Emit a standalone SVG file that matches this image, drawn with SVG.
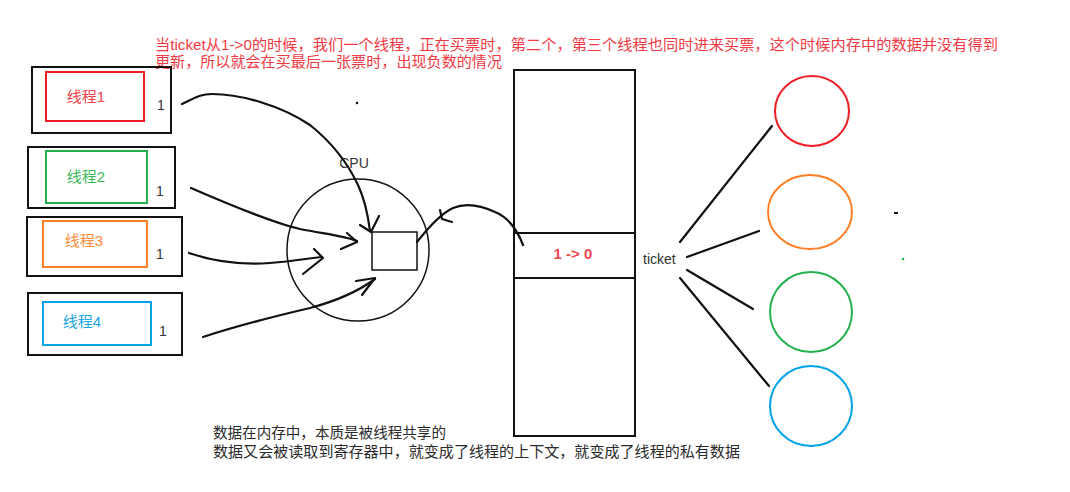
<svg xmlns="http://www.w3.org/2000/svg" width="1070" height="492" viewBox="0 0 1070 492">
<style>
.box{fill:none;stroke:#111;stroke-width:2}
.thin{fill:none;stroke:#111;stroke-width:1.5}
.hand{fill:none;stroke:#111;stroke-width:2.2;stroke-linecap:round;stroke-linejoin:round}
.zh{font-family:"Liberation Sans","Noto Sans CJK SC",sans-serif;font-size:15px}
.lbl{font-family:"Liberation Sans","Noto Sans CJK SC",sans-serif;font-size:14px;fill:#333}
.note{fill:#f23a44}
.dark{fill:#2a2a2a}
</style>
<rect width="1070" height="492" fill="#fff"/>
<text class="zh note" x="155" y="50" textLength="843" lengthAdjust="spacingAndGlyphs">当ticket从1-&gt;0的时候，我们一个线程，正在买票时，第二个，第三个线程也同时进来买票，这个时候内存中的数据并没有得到</text>
<text class="zh note" x="155" y="67" textLength="347" lengthAdjust="spacingAndGlyphs">更新，所以就会在买最后一张票时，出现负数的情况</text>
<g id="thread1">
<rect class="box" x="32" y="67" width="139" height="66"/>
<rect x="46" y="72" width="98" height="49" fill="none" stroke="#ed1c24" stroke-width="2"/>
<text class="zh" x="86" y="102" text-anchor="middle" fill="#f0404a">线程1</text>
<text class="lbl" x="161" y="110" text-anchor="middle">1</text>
</g>
<g id="thread2">
<rect class="box" x="28" y="147" width="147" height="61"/>
<rect x="46" y="151" width="101" height="52" fill="none" stroke="#22b14c" stroke-width="2"/>
<text class="zh" x="86" y="182" text-anchor="middle" fill="#3cba5a">线程2</text>
<text class="lbl" x="160" y="196" text-anchor="middle">1</text>
</g>
<g id="thread3">
<rect class="box" x="27" y="217" width="155" height="59"/>
<rect x="43" y="221" width="104" height="46" fill="none" stroke="#ff7f27" stroke-width="2"/>
<text class="zh" x="84" y="246" text-anchor="middle" fill="#ff8a3a">线程3</text>
<text class="lbl" x="160" y="259" text-anchor="middle">1</text>
</g>
<g id="thread4">
<rect class="box" x="28" y="293" width="154" height="62"/>
<rect x="43" y="302" width="108" height="43" fill="none" stroke="#00a2e8" stroke-width="2"/>
<text class="zh" x="82" y="327" text-anchor="middle" fill="#1aa6e8">线程4</text>
<text class="lbl" x="163" y="336" text-anchor="middle">1</text>
</g>
<g id="cpu">
<circle class="thin" cx="358" cy="250" r="71"/>
<rect class="thin" x="372" y="232" width="45" height="38"/>
<text class="lbl" x="354" y="168" text-anchor="middle" font-size="13">CPU</text>
<circle cx="357" cy="103" r="1.3" fill="#111"/>
</g>
<g id="memory">
<rect class="box" x="514" y="70" width="121" height="366"/>
<line class="box" x1="514" y1="233" x2="635" y2="233"/>
<line class="box" x1="514" y1="278" x2="635" y2="278"/>
<text x="573" y="259" text-anchor="middle" font-family="Liberation Sans,sans-serif" font-size="15" font-weight="bold" fill="#f2464f">1 -&gt; 0</text>
<text class="lbl" x="643" y="264" font-size="13">ticket</text>
</g>
<g id="circles">
<ellipse cx="812" cy="111" rx="37" ry="35" fill="none" stroke="#ed1c24" stroke-width="2"/>
<ellipse cx="810" cy="212" rx="42" ry="37" fill="none" stroke="#ff7f27" stroke-width="2"/>
<ellipse cx="811" cy="312" rx="41" ry="40" fill="none" stroke="#22b14c" stroke-width="2"/>
<ellipse cx="811" cy="406" rx="41" ry="40" fill="none" stroke="#00a2e8" stroke-width="2"/>
<line x1="894" y1="213" x2="898" y2="213" stroke="#111" stroke-width="2"/>
<circle cx="903" cy="259" r="1.3" fill="#22b14c"/>
</g>
<g id="connectors">
<path class="hand" d="M182,104 C195,98 200,94 212,94 C240,94 280,105 310,125 C335,145 350,168 358,185 C365,200 368,215 370,231"/>
<path class="hand" d="M360,225 L371,232 L379,216"/>
<path class="hand" d="M191,188 C230,205 270,222 300,229 C325,234 345,236 357,241"/>
<path class="hand" d="M347,233 L357,242 L341,249"/>
<path class="hand" d="M189,253 C215,262 240,265 270,263 C295,261 310,258 322,257"/>
<path class="hand" d="M314,249 L323,258 L303,274"/>
<path class="hand" d="M203,337 C240,325 280,315 310,308 C340,300 360,290 375,279"/>
<path class="hand" d="M356,281 L375,278 L362,295"/>
<path class="hand" d="M523,245 C518,232 510,218 495,212 C480,205 465,203 453,208 C440,214 428,228 417,242"/>
<path class="hand" d="M440,210 L442,219 L452,222"/>
<line class="hand" x1="680" y1="242" x2="772" y2="126"/>
<line class="hand" x1="687" y1="257" x2="759" y2="231"/>
<line class="hand" x1="687" y1="270" x2="753" y2="309"/>
<line class="hand" x1="680" y1="278" x2="769" y2="386"/>
</g>
<text class="zh dark" x="213" y="438" textLength="233" lengthAdjust="spacingAndGlyphs">数据在内存中，本质是被线程共享的</text>
<text class="zh dark" x="213" y="457" textLength="527" lengthAdjust="spacingAndGlyphs">数据又会被读取到寄存器中，就变成了线程的上下文，就变成了线程的私有数据</text>
</svg>
